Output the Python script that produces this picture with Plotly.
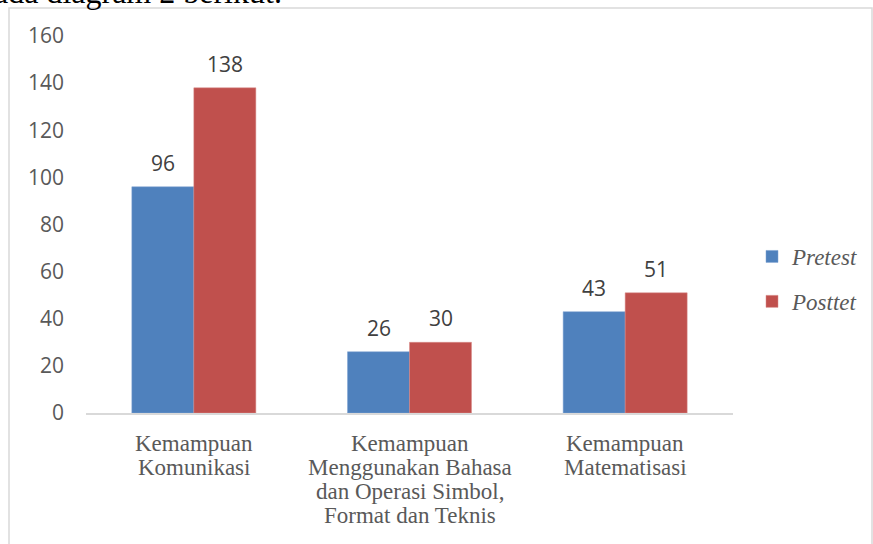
import plotly.graph_objects as go

categories = [
    "Kemampuan<br>Komunikasi",
    "Kemampuan<br>Menggunakan Bahasa<br>dan Operasi Simbol,<br>Format dan Teknis",
    "Kemampuan<br>Matematisasi",
]
pretest = [96, 26, 43]
posttest = [138, 30, 51]
series_names = ["<i>Pretest</i>", "<i>Posttet</i>"]
y_ticks = [0, 20, 40, 60, 80, 100, 120, 140, 160]

W, H = 873, 544
L, R, T, B = 86, 140, 36, 131
pw, ph = W - L - R, H - T - B

def px_x(x):
    return (x - L) / pw

def px_y(y):
    return (H - B - y) / ph

serif = "Liberation Serif, Times New Roman, serif"
sans = "Open Sans, Noto Sans, sans-serif"
label_font = dict(family=sans, size=21, color="#404040")

fig = go.Figure()
fig.add_trace(go.Bar(
    x=categories, y=pretest, name=series_names[0],
    marker=dict(color="#4F81BD", line=dict(color="#7FA3D3", width=0.5)),
    legendgroup="a",
))
fig.add_trace(go.Bar(
    x=categories, y=posttest, name=series_names[1],
    marker=dict(color="#C0504D", line=dict(color="#D88A88", width=0.5)),
    legendgroup="b",
))

annotations = []
# data labels
for series, shift in ((pretest, -31), (posttest, 31)):
    for cat, val in zip(categories, series):
        annotations.append(dict(
            x=cat, y=val, xref="x", yref="y", text=str(val), showarrow=False,
            xshift=shift, yshift=24, yanchor="middle", font=label_font,
        ))
# category labels (custom line spacing)
for cat in categories:
    for i, line in enumerate(cat.split("<br>")):
        annotations.append(dict(
            x=cat, y=0, xref="x", yref="y", text=line, showarrow=False,
            yshift=-30 - 24 * i, yanchor="middle",
            font=dict(family=serif, size=23, color="#595959"),
        ))
# cropped text above the chart
annotations.append(dict(
    text="pada diagram 2 berikut.", xref="paper", yref="paper",
    x=px_x(284), y=px_y(11.5), xanchor="right", yanchor="bottom",
    showarrow=False, font=dict(family=serif, size=32, color="black"),
))

fig.update_layout(
    width=W, height=H,
    margin=dict(l=L, r=R, t=T, b=B, autoexpand=False),
    paper_bgcolor="white", plot_bgcolor="white",
    barmode="group", bargap=0.425, bargroupgap=0,
    showlegend=True,
    legend=dict(
        x=px_x(752), y=px_y(279), xanchor="left", yanchor="middle",
        font=dict(family=serif, size=23, color="#595959"),
        tracegroupgap=12, bgcolor="rgba(0,0,0,0)",
    ),
    xaxis=dict(
        showgrid=False, showline=True, linecolor="#d9d9d9", linewidth=1.5,
        ticks="", showticklabels=False, automargin=False,
    ),
    yaxis=dict(
        range=[0, 160], tickvals=y_ticks, showgrid=False, zeroline=False, showline=False,
        ticks="", tickfont=dict(family=sans, size=21, color="#595959"),
        ticklabelstandoff=21, automargin=False,
    ),
    shapes=[dict(
        type="rect", xref="paper", yref="paper",
        x0=px_x(9), x1=px_x(872), y0=px_y(560), y1=px_y(8),
        line=dict(color="#d9d9d9", width=1.5), fillcolor="rgba(0,0,0,0)", layer="below",
    )],
    annotations=annotations,
)

fig.write_html("out.html", config={"displayModeBar": False},
               post_script="document.body.style.margin='0';")
